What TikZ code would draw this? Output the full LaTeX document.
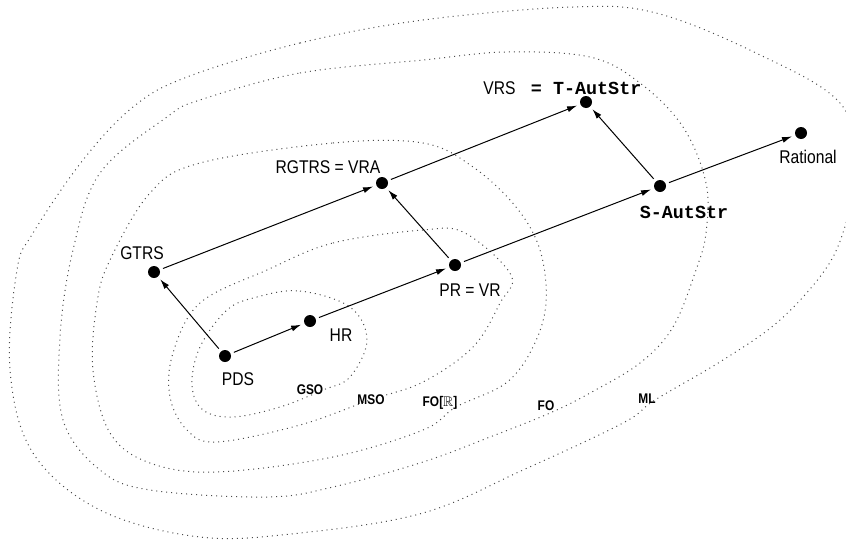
\documentclass[tikz,border=0pt]{standalone}
\usepackage{fontspec}
\setmainfont{Liberation Sans}[FakeStretch=0.85]
\setmonofont{Liberation Mono}
\usepackage{amssymb}
\usetikzlibrary{arrows.meta}

\begin{document}
\begin{tikzpicture}[x=0.5pt, y=-0.5pt,
    every node/.style={font=\fontsize{9.2}{11}\selectfont, inner sep=0pt},
    dot/.style={circle, fill=black, minimum size=6pt, outer sep=1.8pt},
    logic/.style={font=\fontsize{7}{8}\selectfont\bfseries},
    code/.style={font=\fontsize{9.2}{11}\selectfont\ttfamily\bfseries},
    region/.style={dotted, black!70, line width=0.5pt},
    incl/.style={-{Latex[length=5pt,width=3pt]}, line width=0.5pt}]
    \useasboundingbox (0,0) rectangle (846,541);
    \clip (0,0) rectangle (846,541);

    % logic regions
    \draw[region] plot[smooth cycle, tension=0.6] coordinates {
        (257,297) (300,291) (350,307) (367,340) (350,377) (323,390)
        (280,407) (233,417) (203,410) (192,385) (200,347) (227,310)};
    \draw[region] plot[smooth cycle, tension=0.6] coordinates {
        (267,270) (333,243) (423,230) (465,233) (511,275) (500,303)
        (473,347) (423,382) (370,400) (300,425) (217,442) (187,430)
        (170,397) (173,353) (200,303)};
    \draw[region] plot[smooth cycle, tension=0.6] coordinates {
        (200,163) (333,143) (423,143) (473,167) (516,207) (540,250)
        (546,303) (533,347) (506,383) (456,407) (423,430) (333,457)
        (217,472) (150,463) (110,433) (93,370) (97,303) (110,260)
        (150,193)};
    \draw[region] plot[smooth cycle, tension=0.6] coordinates {
        (200,100) (300,73) (423,60) (506,52) (590,57) (640,83)
        (683,127) (706,183) (706,233) (696,270) (673,327) (640,363)
        (590,393) (550,413) (490,437) (423,462) (333,487) (267,497)
        (150,490) (100,470) (63,420) (60,337) (73,250) (100,173)
        (167,117)};
    \draw[region] plot[smooth cycle, tension=0.6] coordinates {
        (187,77) (300,43) (423,20) (573,7) (656,13) (756,53)
        (840,103) (858,170) (847,220) (827,267) (780,320) (723,360)
        (655,400) (623,423) (523,470) (423,513) (300,533) (200,537)
        (100,510) (33,453) (10,370) (17,270) (33,233) (83,160)
        (133,107)};

    \node[logic] (gso) at (310,390) {GSO};
    \node[logic] (mso) at (371,400) {MSO};
    \node[logic] (forr) at (440,403) {FO[$\mathbb{R}$]};
    \node[logic] (fo) at (546,406) {FO};
    \node[logic] (ml) at (647,399) {ML};

    % classes
    \node[dot] (pds) at (225,356) {};
    \node[dot] (hr) at (310,321) {};
    \node[dot] (gtrs) at (154,272) {};
    \node[dot] (pr) at (455,265) {};
    \node[dot] (rgtrs) at (382,183) {};
    \node[dot] (vrs) at (586,102) {};
    \node[dot] (saut) at (660,186) {};
    \node[dot] (rat) at (801,133) {};

    \node (pdslbl) at (238,379) {PDS};
    \node (hrlbl) at (341,335) {HR};
    \node (gtrslbl) at (142,253) {GTRS};
    \node (prlbl) at (470,290) {PR = VR};
    \node (rgtrslbl) at (328,167) {RGTRS = VRA};
    \node[anchor=west] (vrslbl) at (483,88) {VRS {\ttfamily\bfseries\ = T-AutStr}};
    \node[code] (sautlbl) at (684,212) {S-AutStr};
    \node (ratlbl) at (808,157) {Rational};

    \draw[incl] (pds) -- (hr);
    \draw[incl] (pds) -- (gtrs);
    \draw[incl] (hr) -- (pr);
    \draw[incl] (gtrs) -- (rgtrs);
    \draw[incl] (pr) -- (rgtrs);
    \draw[incl] (pr) -- (saut);
    \draw[incl] (rgtrs) -- (vrs);
    \draw[incl] (saut) -- (vrs);
    \draw[incl] (saut) -- (rat);
\end{tikzpicture}
\end{document}
